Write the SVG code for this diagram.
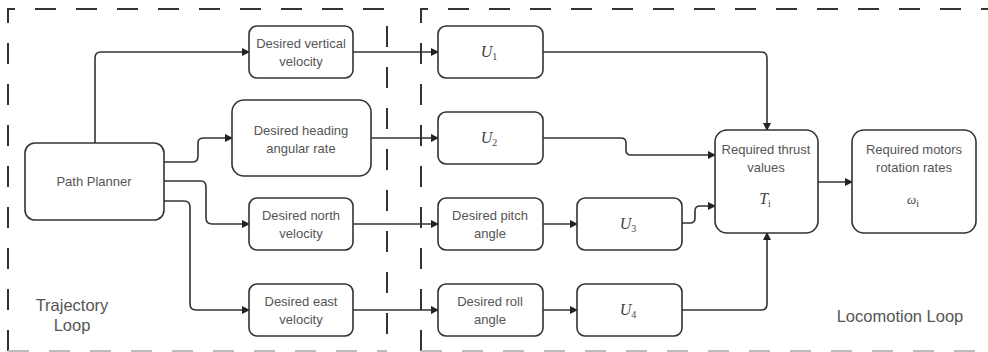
<svg xmlns="http://www.w3.org/2000/svg" width="988" height="352" viewBox="0 0 988 352">
<defs>
<marker id="ah" markerWidth="8" markerHeight="8" refX="7" refY="4" orient="auto" markerUnits="userSpaceOnUse">
<path d="M0,0 L8,4 L0,8 Z" fill="#222"/>
</marker>
<style>
.node rect{fill:#fff;stroke:#333;stroke-width:1.6}
.lbl{font-family:"Liberation Sans",Arial,sans-serif;font-size:13px;fill:#555;text-anchor:middle}
.math{font-family:"Liberation Serif","Times New Roman",serif;font-style:italic;font-size:16px;fill:#444;text-anchor:middle}
.sub{font-size:10px;font-style:normal}
.loop{font-family:"Liberation Sans",Arial,sans-serif;font-size:16.5px;fill:#555;text-anchor:middle}
.edge{fill:none;stroke:#333;stroke-width:1.6;marker-end:url(#ah)}
.frame{fill:none;stroke:#333;stroke-width:2;stroke-dasharray:21 20}
.frame-bottom{fill:none;stroke:#bbb;stroke-width:2;stroke-dasharray:21 20}
</style>
</defs>
<rect fill="#fff" width="988" height="352"/>
<g id="frames">
<path class="frame" d="M8,351 V9 H387 V351"/>
<path class="frame-bottom" d="M8,351 H387"/>
<path class="frame" d="M421,351 V9 H988"/>
<path class="frame-bottom" d="M421,351 H988"/>
</g>
<g id="connectors">
<path class="edge" d="M95,143 V58 Q95,52 101,52 H249"/>
<path class="edge" d="M164,162 H193 Q198,162 198,156 V143 Q198,138 204,138 H232"/>
<path class="edge" d="M164,181 H201 Q206,181 206,187 V218 Q206,224 212,224 H249"/>
<path class="edge" d="M164,201 H184 Q190,201 190,207 V304 Q190,310 196,310 H249"/>
<path class="edge" d="M353,52 H438"/>
<path class="edge" d="M371,138 H438"/>
<path class="edge" d="M353,224 H438"/>
<path class="edge" d="M353,310 H438"/>
<path class="edge" d="M543,224 H577"/>
<path class="edge" d="M543,310 H577"/>
<path class="edge" d="M543,52 H761 Q767,52 767,58 V130"/>
<path class="edge" d="M543,138 H621 Q626,138 626,143 V150 Q626,155 631,155 H715"/>
<path class="edge" d="M682,223 H690 Q695,223 695,218 V211 Q695,206 700,206 H715"/>
<path class="edge" d="M682,310 H761 Q767,310 767,304 V233"/>
<path class="edge" d="M818,182 H852"/>
</g>
<g id="path-planner" class="node"><rect x="25" y="143" width="139" height="77" rx="10"/><text class="lbl" x="94" y="186">Path Planner</text></g>
<g id="desired-vertical-velocity" class="node"><rect x="249" y="26" width="104" height="52" rx="8"/><text class="lbl" x="301" y="48">Desired vertical</text><text class="lbl" x="301" y="66">velocity</text></g>
<g id="desired-heading-angular-rate" class="node"><rect x="232" y="100" width="139" height="76" rx="12"/><text class="lbl" x="301" y="135">Desired heading</text><text class="lbl" x="301" y="153">angular rate</text></g>
<g id="desired-north-velocity" class="node"><rect x="249" y="198" width="104" height="52" rx="8"/><text class="lbl" x="301" y="220">Desired north</text><text class="lbl" x="301" y="238">velocity</text></g>
<g id="desired-east-velocity" class="node"><rect x="249" y="284" width="104" height="52" rx="8"/><text class="lbl" x="301" y="306">Desired east</text><text class="lbl" x="301" y="324">velocity</text></g>
<g id="u1" class="node"><rect x="438" y="26" width="105" height="52" rx="8"/><text class="math" x="489" y="57">U<tspan class="sub" dy="3">1</tspan></text></g>
<g id="u2" class="node"><rect x="438" y="112" width="105" height="52" rx="8"/><text class="math" x="489" y="143">U<tspan class="sub" dy="3">2</tspan></text></g>
<g id="desired-pitch-angle" class="node"><rect x="438" y="198" width="105" height="52" rx="8"/><text class="lbl" x="490" y="220">Desired pitch</text><text class="lbl" x="490" y="238">angle</text></g>
<g id="desired-roll-angle" class="node"><rect x="438" y="284" width="105" height="52" rx="8"/><text class="lbl" x="490" y="306">Desired roll</text><text class="lbl" x="490" y="324">angle</text></g>
<g id="u3" class="node"><rect x="577" y="198" width="105" height="52" rx="8"/><text class="math" x="628" y="229">U<tspan class="sub" dy="3">3</tspan></text></g>
<g id="u4" class="node"><rect x="577" y="284" width="105" height="52" rx="8"/><text class="math" x="628" y="315">U<tspan class="sub" dy="3">4</tspan></text></g>
<g id="required-thrust-values" class="node"><rect x="715" y="130" width="103" height="103" rx="12"/><text class="lbl" x="766" y="154">Required thrust</text><text class="lbl" x="766" y="172">values</text><text class="math" x="765" y="204">T<tspan class="sub" dy="3">i</tspan></text></g>
<g id="required-motors-rotation-rates" class="node"><rect x="852" y="130" width="124" height="103" rx="12"/><text class="lbl" x="914" y="154">Required motors</text><text class="lbl" x="914" y="172">rotation rates</text><text class="math" x="913" y="204" style="font-size:13px">ω<tspan class="sub" dy="3">i</tspan></text></g>
<g id="labels">
<text class="loop" x="72" y="311">Trajectory</text>
<text class="loop" x="72" y="331">Loop</text>
<text class="loop" x="900" y="322">Locomotion Loop</text>
</g>
</svg>
